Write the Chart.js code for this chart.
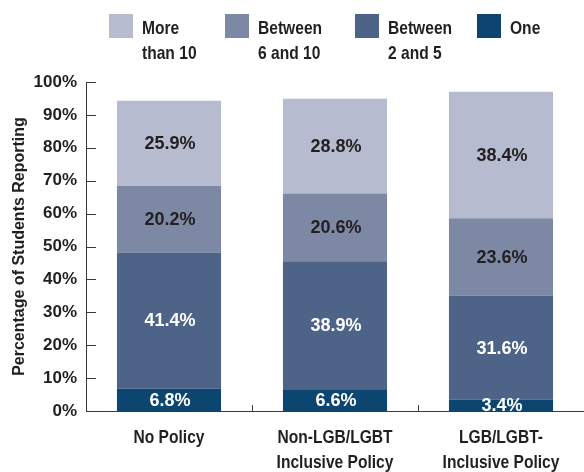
<!DOCTYPE html>
<html>
<head>
<meta charset="utf-8">
<script src="https://cdn.jsdelivr.net/npm/chart.js@4"></script>
<style>
  html, body { margin: 0; padding: 0; background: #fff; }
</style>
</head>
<body>
<canvas id="graph" width="584" height="472"></canvas>
<script>
// data
const categories = [['No Policy'], ['Non-LGB/LGBT', 'Inclusive Policy'], ['LGB/LGBT-', 'Inclusive Policy']];
const seriesNames = ['One', 'Between 2 and 5', 'Between 6 and 10', 'More than 10'];
const legendLines = [['One'], ['Between', '2 and 5'], ['Between', '6 and 10'], ['More', 'than 10']];
const one = [6.8, 6.6, 3.4];
const twoToFive = [41.4, 38.9, 31.6];
const sixToTen = [20.2, 20.6, 23.6];
const moreThanTen = [25.9, 28.8, 38.4];
const yTicks = [0, 10, 20, 30, 40, 50, 60, 70, 80, 90, 100];

const colors = ['#0c4670', '#4d6388', '#7d88a5', '#b6bbcf'];
const labelColors = ['#ffffff', '#ffffff', '#231f20', '#231f20'];
const textColor = '#231f20';
const axisColor = '#3a3a3a';
const sans = '"Liberation Sans", Arial, sans-serif';
const legendX = [477, 355, 225, 109]; // box left edges, same order as seriesNames

const seriesValues = [one, twoToFive, sixToTen, moreThanTen];

// condensed look: squeeze normal bold text sideways
function narrowText(ctx, text, x, y, align) {
  ctx.save();
  ctx.translate(x, y);
  ctx.scale(0.82, 1);
  ctx.textAlign = align;
  ctx.fillText(text, 0, 0);
  ctx.restore();
}

// values written in each segment
const segmentLabels = {
  id: 'segmentLabels',
  afterDatasetsDraw(chart) {
    const ctx = chart.ctx;
    ctx.save();
    ctx.font = 'bold 18px ' + sans;
    ctx.textAlign = 'center';
    ctx.textBaseline = 'middle';
    chart.data.datasets.forEach((ds, i) => {
      chart.getDatasetMeta(i).data.forEach((bar, j) => {
        const p = bar.getCenterPoint();
        ctx.fillStyle = labelColors[i];
        ctx.fillText(ds.data[j].toFixed(1) + '%', p.x + 1, p.y + 1);
      });
    });
    ctx.restore();
  }
};

// tick marks pointing into the plot, plus category labels
const axisTicks = {
  id: 'axisTicks',
  afterDraw(chart) {
    const ctx = chart.ctx;
    const area = chart.chartArea;
    const ys = chart.scales.y;
    const xs = chart.scales.x;
    ctx.save();
    ctx.strokeStyle = axisColor;
    ctx.lineWidth = 1;
    ctx.beginPath();
    yTicks.forEach(v => {
      const y = Math.round(ys.getPixelForValue(v)) + 0.5;
      ctx.moveTo(area.left, y);
      ctx.lineTo(area.left + 10, y);
    });
    for (let i = 0; i < categories.length - 1; i++) {
      const x = Math.round((xs.getPixelForTick(i) + xs.getPixelForTick(i + 1)) / 2) + 0.5;
      ctx.moveTo(x, area.bottom);
      ctx.lineTo(x, area.bottom - 6);
    }
    ctx.stroke();

    ctx.fillStyle = textColor;
    ctx.font = 'bold 19px ' + sans;
    ctx.textBaseline = 'middle';
    categories.forEach((lines, i) => {
      const x = xs.getPixelForTick(i);
      lines.forEach((line, k) => narrowText(ctx, line, x, area.bottom + 27 + k * 25, 'center'));
    });
    ctx.restore();
  }
};

// legend along the top, largest group first
const topLegend = {
  id: 'topLegend',
  afterDraw(chart) {
    const ctx = chart.ctx;
    ctx.save();
    ctx.font = 'bold 19px ' + sans;
    ctx.textBaseline = 'middle';
    chart.data.datasets.forEach((ds, k) => {
      const x = legendX[k];
      ctx.fillStyle = ds.backgroundColor;
      ctx.fillRect(x, 14, 24, 24);
      ctx.fillStyle = textColor;
      legendLines[k].forEach((line, i) => narrowText(ctx, line, x + 33, 29 + i * 25, 'left'));
    });
    ctx.restore();
  }
};

const ctx = document.getElementById('graph').getContext('2d');
const graph = new Chart(ctx, {
  type: 'bar',
  data: {
    labels: categories,
    datasets: seriesNames.map((name, i) => ({
      label: name,
      data: seriesValues[i],
      backgroundColor: colors[i],
      borderWidth: 0,
      categoryPercentage: 1,
      barPercentage: 0.627
    }))
  },
  options: {
    responsive: false,
    animation: false,
    devicePixelRatio: 1,
    layout: { padding: { top: 82, right: 0, left: 0, bottom: 0 } },
    plugins: {
      legend: { display: false },
      tooltip: { enabled: false }
    },
    scales: {
      x: {
        stacked: true,
        grid: { display: false, drawTicks: false },
        border: { display: true, color: axisColor, width: 1 },
        ticks: { display: false },
        afterFit: s => { s.height = 61; }
      },
      y: {
        stacked: true,
        min: 0,
        max: 100,
        afterBuildTicks: s => { s.ticks = yTicks.map(v => ({ value: v })); },
        grid: { display: false, drawTicks: false },
        border: { display: true, color: axisColor, width: 1 },
        ticks: {
          padding: 9,
          color: textColor,
          callback: v => v + '%',
          font: { family: sans, size: 17, weight: 'bold' }
        },
        title: {
          display: true,
          text: 'Percentage of Students Reporting',
          color: textColor,
          font: { family: sans, size: 16, weight: 'bold' },
          padding: { top: 10, bottom: 0 }
        },
        afterFit: s => { s.width = 86; }
      }
    }
  },
  plugins: [segmentLabels, axisTicks, topLegend]
});
</script>
</body>
</html>
